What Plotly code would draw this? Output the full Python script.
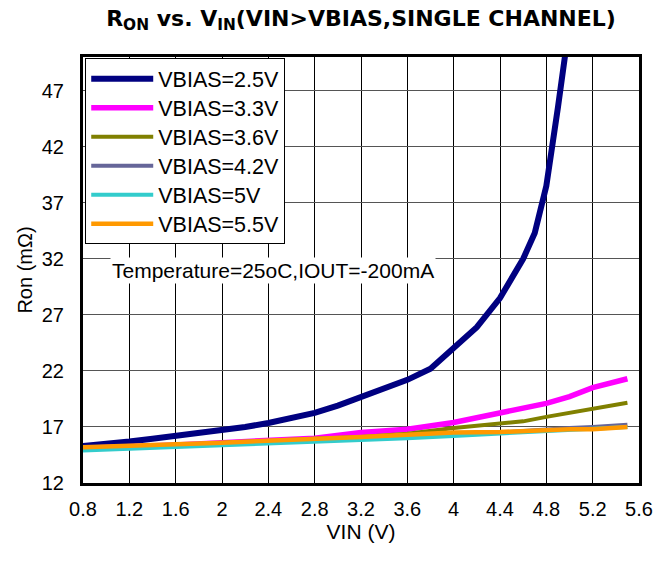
import plotly.graph_objects as go

vin_25 = [0.8, 1.0, 1.2, 1.4, 1.6, 1.8, 2.0, 2.2, 2.4, 2.6, 2.8, 3.0, 3.2, 3.4, 3.6, 3.8, 4.0, 4.2, 4.4, 4.6, 4.7, 4.8, 4.9, 5.0]
ron_25 = [15.3, 15.45, 15.7, 15.95, 16.2, 16.4, 16.7, 17.0, 17.35, 17.75, 18.25, 18.9, 19.65, 20.4, 21.2, 22.2, 24.0, 25.9, 28.5, 32.0, 34.3, 38.5, 45.5, 53.0]

vin = [0.8, 1.2, 1.6, 2.0, 2.4, 2.8, 3.2, 3.6, 4.0, 4.4, 4.6, 4.8, 5.0, 5.2, 5.5]
ron_33 = [15.1, 15.2, 15.4, 15.6, 15.8, 16.0, 16.5, 16.8, 17.4, 18.2, 18.6, 19.1, 19.7, 20.5, 21.3]
ron_36 = [15.1, 15.2, 15.4, 15.6, 15.8, 15.95, 16.1, 16.4, 16.9, 17.35, 17.5, 17.9, 18.25, 18.6, 19.15]
ron_42 = [15.0, 15.15, 15.3, 15.5, 15.65, 15.85, 16.0, 16.1, 16.3, 16.5, 16.65, 16.8, 16.9, 17.0, 17.2]
ron_50 = [14.9, 15.05, 15.2, 15.35, 15.5, 15.7, 15.85, 16.0, 16.2, 16.4, 16.5, 16.6, 16.7, 16.8, 17.0]
ron_55 = [15.2, 15.3, 15.45, 15.6, 15.75, 15.95, 16.1, 16.3, 16.5, 16.55, 16.65, 16.8, 16.8, 16.8, 17.0]

names = ["VBIAS=2.5V", "VBIAS=3.3V", "VBIAS=3.6V", "VBIAS=4.2V", "VBIAS=5V", "VBIAS=5.5V"]
x_ticks = [0.8, 1.2, 1.6, 2.0, 2.4, 2.8, 3.2, 3.6, 4.0, 4.4, 4.8, 5.2, 5.6]
x_tick_labels = ["0.8", "1.2", "1.6", "2", "2.4", "2.8", "3.2", "3.6", "4", "4.4", "4.8", "5.2", "5.6"]
y_ticks = [12, 17, 22, 27, 32, 37, 42, 47]

series = [
    (vin_25, ron_25, "#000080", 6),
    (vin, ron_33, "#ff00ff", 5.5),
    (vin, ron_36, "#808000", 4),
    (vin, ron_42, "#666699", 4),
    (vin, ron_50, "#33cccc", 4),
    (vin, ron_55, "#ff9900", 4.5),
]

FONT = "Arial, Liberation Sans, sans-serif"
fig = go.Figure()
for (xs, ys, col, w), nm in zip(series, names):
    fig.add_trace(go.Scatter(x=xs, y=ys, mode="lines",
                             name=f'<span style="font-size:21.5px">{nm}</span>',
                             line=dict(color=col, width=w)))

fig.update_layout(
    width=665, height=562,
    margin=dict(l=83, r=17, t=57, b=79),
    paper_bgcolor="white", plot_bgcolor="white",
    font=dict(family=FONT, size=20, color="black"),
    title=dict(text="<b>R<sub>ON</sub> vs. V<sub>IN</sub>(VIN>VBIAS,SINGLE CHANNEL)</b>",
               x=0.5, xref="paper", xanchor="center", y=0.982, yref="container",
               font=dict(size=22, family="DejaVu Sans, sans-serif")),
    showlegend=True,
    legend=dict(x=0.004, y=0.997, xanchor="left", yanchor="top",
                bgcolor="white", bordercolor="black", borderwidth=1,
                font=dict(size=20, family=FONT), itemwidth=62),
    xaxis=dict(range=[0.8, 5.6], tickvals=x_ticks, ticktext=x_tick_labels,
               showgrid=True, gridcolor="black", gridwidth=1,
               showline=True, linecolor="black", linewidth=3, mirror=True,
               ticks="", ticklabelstandoff=6, zeroline=False,
               tickfont=dict(size=20),
               title=dict(text="VIN (V)", standoff=4, font=dict(size=21))),
    yaxis=dict(range=[12, 50], tickvals=y_ticks,
               showgrid=True, gridcolor="#555555", gridwidth=1,
               showline=True, linecolor="black", linewidth=3, mirror=True,
               ticks="", ticklabelstandoff=12, zeroline=False,
               tickfont=dict(size=20),
               title=dict(text="Ron (mΩ)", standoff=4, font=dict(size=20))),
    annotations=[dict(x=1.03, y=31.0, xref="x", yref="y", xanchor="left", yanchor="middle",
                      text="Temperature=25oC,IOUT=-200mA", showarrow=False,
                      bgcolor="white", font=dict(size=21, family=FONT))],
)

fig.write_html("out.html", config={"displayModeBar": False},
               post_script="document.body.style.margin='0px';")
